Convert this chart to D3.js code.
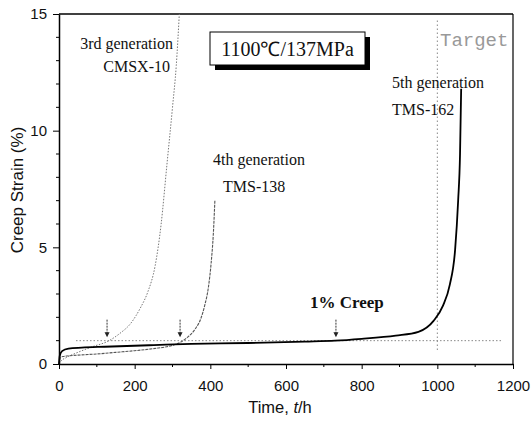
<!DOCTYPE html>
<html><head><meta charset="utf-8">
<script src="https://cdn.jsdelivr.net/npm/d3@7"></script>
<style>body{margin:0;background:#fff}svg{display:block}</style>
</head><body>
<svg id="c" width="531" height="421"></svg>
<script>
// ---- data ----
const xTicks = [0, 200, 400, 600, 800, 1000, 1200];
const yTicks = [0, 5, 10, 15];
const cmsxTime   = [0, 5, 20, 50, 90, 130, 160, 190, 215, 235, 254, 270, 285, 300, 310, 318];
const cmsxStrain = [0, 0.12, 0.28, 0.5, 0.75, 0.98, 1.3, 1.75, 2.4, 3.1, 4.2, 6.0, 8.5, 11.0, 12.8, 15];
const tms138Time   = [0, 3, 10, 50, 100, 150, 200, 250, 300, 320, 340, 360, 375, 385, 395, 402, 408, 412];
const tms138Strain = [0, 0.25, 0.32, 0.38, 0.43, 0.5, 0.57, 0.66, 0.8, 0.92, 1.15, 1.5, 1.95, 2.5, 3.3, 4.3, 5.6, 7.0];
const tms162Time   = [0, 2, 8, 25, 60, 120, 250, 350, 500, 650, 730, 800, 890, 950, 990, 1015, 1033, 1047, 1055, 1060, 1063];
const tms162Strain = [0, 0.35, 0.55, 0.66, 0.7, 0.74, 0.81, 0.86, 0.9, 0.96, 1.0, 1.08, 1.22, 1.38, 1.85, 2.5, 3.4, 4.9, 7.0, 9.0, 11.8];
const creepLimit = 1;            // 1% creep line
const creepLineRange = [45, 1170];
const targetTime = 1000;
const targetRange = [0.6, 15];
const arrowTimes = [127, 320, 732];
const arrowTip = 1.15, arrowTail = 1.9;

// ---- layout ----
const svg = d3.select('#c');
const m = {l: 59, t: 14, r: 18, b: 57};
const W = 531 - m.l - m.r, H = 421 - m.t - m.b;
const x = d3.scaleLinear().domain([0, 1200]).range([0, W]);
const y = d3.scaleLinear().domain([0, 15]).range([H, 0]);
const g = svg.append('g').attr('transform', `translate(${m.l},${m.t})`);

// frame
g.append('line').attr('x1', 0).attr('x2', W).attr('y1', 0).attr('y2', 0).attr('stroke', '#000').attr('stroke-width', 1.5);
g.append('line').attr('x1', W).attr('x2', W).attr('y1', 0).attr('y2', H).attr('stroke', '#000').attr('stroke-width', 1.2);

// minor ticks
g.append('g').selectAll('line').data(d3.range(100, 1200, 200)).join('line')
  .attr('x1', d => x(d)).attr('x2', d => x(d)).attr('y1', H).attr('y2', H + 3).attr('stroke', '#000');
g.append('g').selectAll('line').data(d3.range(0, 15, 1).filter(v => v % 5 !== 0)).join('line')
  .attr('x1', -3).attr('x2', 0).attr('y1', d => y(d)).attr('y2', d => y(d)).attr('stroke', '#000');

const xa = g.append('g').attr('transform', `translate(0,${H})`)
  .call(d3.axisBottom(x).tickValues(xTicks).tickSize(5).tickSizeOuter(0).tickPadding(11).tickFormat(d3.format('d')));
const ya = g.append('g')
  .call(d3.axisLeft(y).tickValues(yTicks).tickSize(6).tickSizeOuter(0).tickPadding(6));
[xa, ya].forEach(a => {
  a.select('.domain').attr('stroke-width', 1.5);
  a.selectAll('text').attr('font-family', 'Liberation Sans, Arial, sans-serif').attr('font-size', 15).attr('fill', '#111');
});

// reference lines
g.append('line').attr('x1', x(creepLineRange[0])).attr('x2', x(creepLineRange[1]))
  .attr('y1', y(creepLimit)).attr('y2', y(creepLimit))
  .attr('stroke', '#888').attr('stroke-width', 1).attr('stroke-dasharray', '1.5,2');
g.append('line').attr('x1', x(targetTime)).attr('x2', x(targetTime))
  .attr('y1', y(targetRange[0])).attr('y2', y(targetRange[1]) + 4)
  .attr('stroke', '#888').attr('stroke-width', 1).attr('stroke-dasharray', '1.5,2.5');

// curves
const line = d3.line().x(d => x(d[0])).y(d => y(d[1])).curve(d3.curveMonotoneX);
const series = [
  {t: cmsxTime, s: cmsxStrain, color: '#777', w: 1, dash: '1.5,1.5'},
  {t: tms138Time, s: tms138Strain, color: '#555', w: 1.1, dash: '3,1'},
  {t: tms162Time, s: tms162Strain, color: '#000', w: 1.8, dash: null}
];
series.forEach(sr => {
  g.append('path').datum(sr.t.map((t, i) => [t, sr.s[i]]))
    .attr('d', line).attr('fill', 'none').attr('stroke', sr.color)
    .attr('stroke-width', sr.w).attr('stroke-dasharray', sr.dash);
});

// arrows
arrowTimes.forEach(t => {
  const ax = x(t);
  g.append('line').attr('x1', ax).attr('x2', ax).attr('y1', y(arrowTail)).attr('y2', y(arrowTip) - 2)
    .attr('stroke', '#333').attr('stroke-width', 1).attr('stroke-dasharray', '2,1');
  g.append('path').attr('d', `M${ax - 2.5},${y(arrowTip) - 5}L${ax + 2.5},${y(arrowTip) - 5}L${ax},${y(arrowTip)}Z`).attr('fill', '#222');
});

// axis titles
svg.append('text').attr('transform', 'translate(23,190) rotate(-90)').attr('text-anchor', 'middle')
  .attr('font-family', 'Liberation Sans, Arial, sans-serif').attr('font-size', 17).attr('fill', '#111')
  .text('Creep Strain (%)');
const xt = svg.append('text').attr('x', 280).attr('y', 413).attr('text-anchor', 'middle')
  .attr('font-family', 'Liberation Sans, Arial, sans-serif').attr('font-size', 16.5).attr('fill', '#111');
xt.append('tspan').text('Time, ');
xt.append('tspan').attr('font-style', 'italic').text('t');
xt.append('tspan').text('/h');

// condition box
svg.append('rect').attr('x', 215).attr('y', 37).attr('width', 155).attr('height', 33).attr('fill', '#000');
svg.append('rect').attr('x', 210).attr('y', 32).attr('width', 155).attr('height', 33).attr('fill', '#fff').attr('stroke', '#000').attr('stroke-width', 1);
svg.append('text').attr('x', 287.5).attr('y', 56).attr('text-anchor', 'middle')
  .attr('font-family', 'Liberation Serif, Times New Roman, serif').attr('font-size', 20).attr('fill', '#111')
  .text('1100℃/137MPa');

// labels
const serif = 'Liberation Serif, Times New Roman, serif';
function lab(tx, ty, txt, anchor, opts = {}) {
  return svg.append('text').attr('x', tx).attr('y', ty).attr('text-anchor', anchor)
    .attr('font-family', opts.ff || serif).attr('font-size', opts.fs || 16)
    .attr('font-weight', opts.fw || 'normal').attr('fill', opts.fill || '#111').text(txt);
}
lab(173, 49, '3rd generation', 'end');
lab(170, 72, 'CMSX-10', 'end');
lab(213, 165, '4th generation', 'start');
lab(223, 192, 'TMS-138', 'start');
lab(392, 88, '5th generation', 'start');
lab(392, 115, 'TMS-162', 'start');
lab(310, 308, '1% Creep', 'start', {fw: 'bold', fs: 17});
lab(440, 46, 'Target', 'start', {ff: 'Liberation Mono, Courier New, monospace', fs: 19, fill: '#999'});
</script>
</body></html>
